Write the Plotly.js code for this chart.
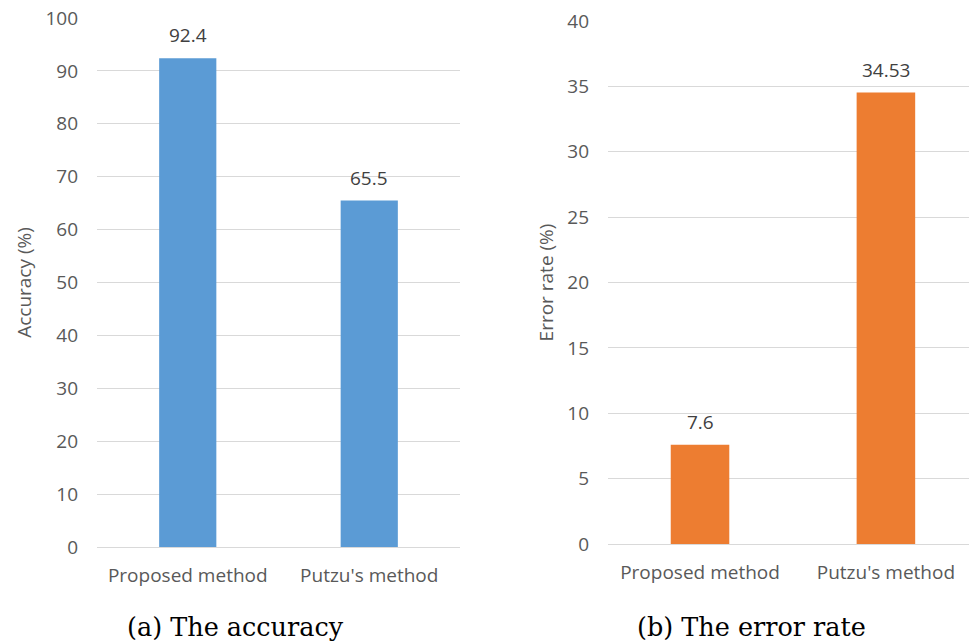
<!DOCTYPE html>
<html>
<head>
<meta charset="utf-8">
<script src="https://cdn.plot.ly/plotly-3.0.1.min.js"></script>
<style>html,body{margin:0;padding:0;overflow:hidden;background:#fff}</style>
</head>
<body>
<div id="chart" style="width:969px;height:642px"></div>
<script>
var categories = ["Proposed method", "Putzu's method"];
var accuracy = [92.4, 65.5];
var accuracyLabels = ["92.4", "65.5"];
var errorRate = [7.6, 34.53];
var errorLabels = ["7.6", "34.53"];
var accTicks = [0, 10, 20, 30, 40, 50, 60, 70, 80, 90, 100];
var errTicks = [0, 5, 10, 15, 20, 25, 30, 35, 40];
var captions = ["(a) The accuracy", "(b) The error rate"];

var sans = "Open Sans, Segoe UI, sans-serif";
var serif = "DejaVu Serif, Liberation Serif, serif";
var tickColor = "#595959";
var gridColor = "#d9d9d9";
var fs = 19;

var traces = [
  {type: "bar", x: categories, y: accuracy, xaxis: "x", yaxis: "y",
   marker: {color: "#5b9bd5"}, width: 0.315, hoverinfo: "none"},
  {type: "bar", x: categories, y: errorRate, xaxis: "x2", yaxis: "y2",
   marker: {color: "#ed7d31"}, width: 0.315, hoverinfo: "none"}
];

var annotations = [];
categories.forEach(function(c, i) {
  annotations.push({xref: "x", yref: "y", x: c, y: accuracy[i], text: accuracyLabels[i],
    showarrow: false, yanchor: "bottom", yshift: 8, font: {family: sans, size: fs, color: "#404040"}});
  annotations.push({xref: "x2", yref: "y2", x: c, y: errorRate[i], text: errorLabels[i],
    showarrow: false, yanchor: "bottom", yshift: 8, font: {family: sans, size: fs, color: "#404040"}});
});
annotations.push({xref: "paper", yref: "paper", x: 235/969, y: 1 - 627/642, text: captions[0],
  showarrow: false, xanchor: "center", yanchor: "middle", font: {family: serif, size: 25.5, color: "#000"}});
annotations.push({xref: "paper", yref: "paper", x: 751/969, y: 1 - 627/642, text: captions[1],
  showarrow: false, xanchor: "center", yanchor: "middle", font: {family: serif, size: 25.5, color: "#000"}});

var xcommon = {type: "category", showgrid: false, zeroline: false, showline: false, ticks: "",
  tickfont: {family: sans, size: fs, color: tickColor}, ticklabelstandoff: 15, fixedrange: true};
var ycommon = {showgrid: true, gridcolor: gridColor, gridwidth: 1, zeroline: true, zerolinecolor: gridColor,
  zerolinewidth: 1, showline: false, ticks: "", tickfont: {family: sans, size: fs, color: tickColor},
  ticklabelstandoff: 18, fixedrange: true};

var layout = {
  width: 969, height: 642,
  margin: {l: 0, r: 0, t: 0, b: 0},
  paper_bgcolor: "#fff", plot_bgcolor: "#fff",
  showlegend: false,
  xaxis: Object.assign({}, xcommon, {domain: [97/969, 460/969], range: [-0.5, 1.5], anchor: "y"}),
  yaxis: Object.assign({}, ycommon, {domain: [1 - 547/642, 1 - 18/642], range: [0, 100], tickvals: accTicks,
    anchor: "x", title: {text: "Accuracy (%)", standoff: 8, font: {family: sans, size: fs, color: tickColor}}}),
  xaxis2: Object.assign({}, xcommon, {domain: [608/969, 1], range: [-0.495, 1.447], anchor: "y2"}),
  yaxis2: Object.assign({}, ycommon, {domain: [1 - 544/642, 1 - 21/642], range: [0, 40], tickvals: errTicks,
    anchor: "x2", title: {text: "Error rate (%)", standoff: 8, font: {family: sans, size: fs, color: tickColor}}}),
  annotations: annotations
};

Plotly.newPlot("chart", traces, layout, {displayModeBar: false, staticPlot: true});
</script>
</body>
</html>
